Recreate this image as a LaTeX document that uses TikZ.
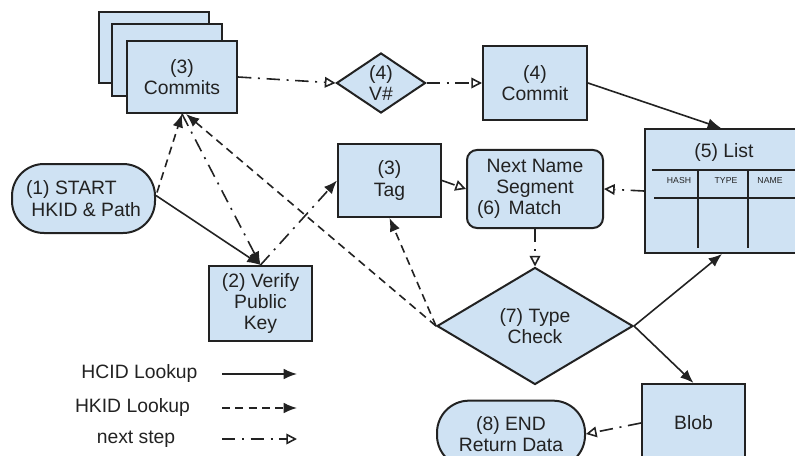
\documentclass[tikz,border=0pt]{standalone}
\usepackage{fontspec}
\setmainfont{Liberation Sans}
\usetikzlibrary{arrows.meta,shapes.geometric,calc}
\definecolor{boxfill}{HTML}{CFE2F3}
\definecolor{ink}{HTML}{222222}
\begin{document}
\begin{tikzpicture}[x=0.75pt,y=-0.75pt,
  every node/.style={font=\fontsize{14.5}{16}\selectfont, text=ink},
  box/.style={draw=ink, line width=1.5pt, fill=boxfill, inner sep=0pt, align=center, rectangle},
  pill/.style={box, rounded corners=24pt},
  rbox/.style={box, rounded corners=7.5pt},
  dia/.style={draw=ink, line width=1.5pt, fill=boxfill, diamond, inner sep=0pt},
  hdr/.style={font=\fontsize{6.5}{7}\selectfont, inner sep=0pt},
  conn/.style={line width=1.2pt, draw=ink},
  hcid/.style={conn, -{Latex[length=10pt,width=8pt]}},
  hkid/.style={conn, dash pattern=on 6pt off 4pt, -{Latex[length=10pt,width=8pt]}},
  nxt/.style={conn, dash pattern=on 10pt off 5pt on 1.5pt off 5pt, -{Triangle[open,length=8pt,width=8pt]}},
  nxtf/.style={conn, dash pattern=on 10pt off 5pt on 1.5pt off 5pt, -{Latex[length=10pt,width=8pt]}},
  tbl/.style={line width=1.2pt, draw=ink}
]
\useasboundingbox (0,0) rectangle (795,456);
\fill[white] (0,0) rectangle (795,456);
\clip (0,0) rectangle (795,456);

% commits stack
\node[box, minimum width=82.5pt, minimum height=53.25pt] (cback) at (154,47.5) {};
\node[box, minimum width=82.5pt, minimum height=54pt] (cmid) at (167,60) {};
\node[box, minimum width=82.5pt, minimum height=54pt] (commits) at (182,77) {(3)\\Commits};

\node[dia, minimum width=66.75pt, minimum height=45pt] (vnum) at (381,83) {};
\node[align=center, inner sep=0pt] (vnumtxt) at (381,83) {(4)\\V\#};

\node[box, minimum width=78pt, minimum height=55.5pt] (commit) at (535,83) {(4)\\Commit};

% list
\node[box, minimum width=118.5pt, minimum height=93pt] (list) at (724,191) {};
\node[inner sep=0pt] (listtitle) at (724,152) {(5) List};
\draw[tbl] (652,170) -- (800,170);
\draw[tbl] (654,198) -- (800,198);
\draw[tbl] (698,170) -- (698,248);
\draw[tbl] (748,170) -- (748,248);
\node[hdr] (hhash) at (679,181) {HASH};
\node[hdr] (htype) at (726,181) {TYPE};
\node[hdr] (hname) at (770,181) {NAME};

\node[rbox, minimum width=102pt, minimum height=58.5pt] (next) at (535,189) {Next Name\\Segment\\\llap{(6)\hspace{6pt}}Match};
\node[box, minimum width=77.25pt, minimum height=54.75pt] (tag) at (389.5,180.5) {(3)\\Tag};

\node[pill, align=left, minimum width=107.25pt, minimum height=51.75pt] (start) at (83.5,198.5) {(1) START\\\hspace*{4pt}HKID \& Path};
\node[box, minimum width=77.25pt, minimum height=56.25pt] (verify) at (260.5,303.5) {(2) Verify\\Public\\Key};

\node[dia, minimum width=147pt, minimum height=87.75pt] (tc) at (535,326) {};
\node[align=center, inner sep=0pt] (tctxt) at (535,326) {(7) Type\\Check};

\node[box, minimum width=77.25pt, minimum height=58.5pt] (blob) at (693.5,423) {Blob};
\node[pill, rounded corners=24pt, minimum width=111pt, minimum height=50pt] (end) at (511,434) {(8) END\\Return Data};

% connectors
\draw[nxt] (commits.east) -- (vnum.west);
\draw[nxt] (vnum.east) -- (commit.west);
\draw[hcid] (commit.east) -- ($(list.north)+(-3,0)$);
\draw[nxt] (list.west) -- (next.east);
\draw[nxt] (tag.east) -- (next.west);
\draw[nxt] (next.south) -- (tc.north);
\draw[hcid] (tc.east) -- ($(list.south)+(-2,0)$);
\draw[hcid] (tc.east) -- (blob.north);
\draw[nxt] (blob.west) -- (end.east);
\draw[hcid] ($(start.east)+(0,-3)$) -- (verify.north);
\draw[hkid] ($(start.east)+(1,-6)$) -- (commits.south);
\draw[nxtf] (commits.south) -- (verify.north);
\draw[nxtf] (verify.north) -- (tag.west);
\draw[hkid] (tc.west) -- ($(commits.south)+(4,0)$);
\draw[hkid] (tc.west) -- (tag.south);

% legend
\node[inner sep=0pt] (lg1) at (139.5,373) {HCID Lookup};
\node[inner sep=0pt] (lg2) at (132.5,407) {HKID Lookup};
\node[inner sep=0pt] (lg3) at (136,439) {next step};
\coordinate (l1a) at (222,374);
\coordinate (l1b) at (297,374);
\coordinate (l2a) at (222,408);
\coordinate (l2b) at (297,408);
\coordinate (l3a) at (222,439);
\coordinate (l3b) at (297,439);
\draw[hcid] (l1a) -- (l1b);
\draw[hkid] (l2a) -- (l2b);
\draw[nxt] (l3a) -- (l3b);
\end{tikzpicture}
\end{document}
